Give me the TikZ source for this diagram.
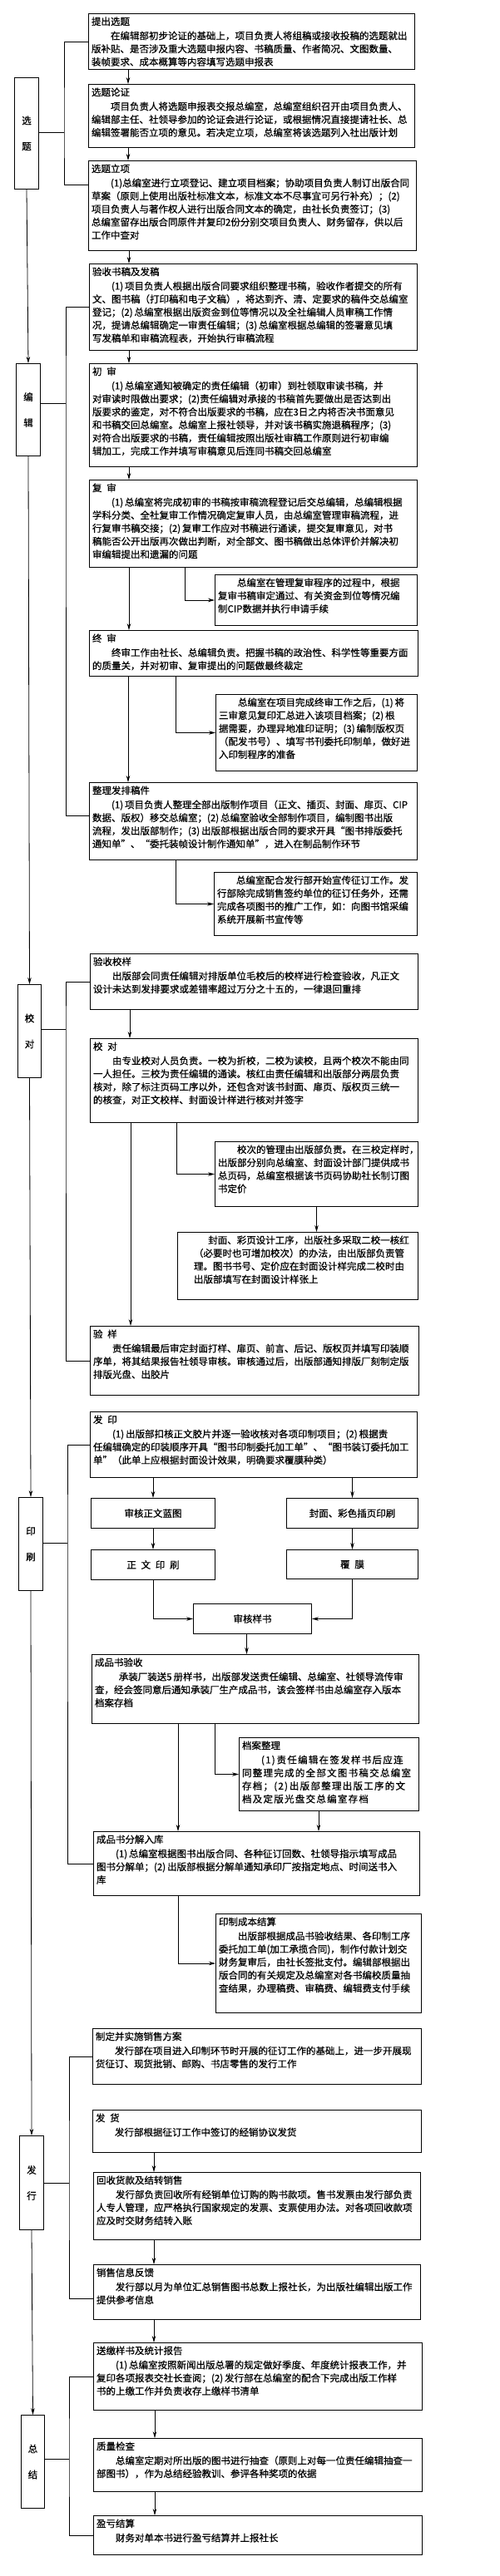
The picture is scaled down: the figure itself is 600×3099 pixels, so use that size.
\documentclass[tikz,border=0pt]{standalone}
\usepackage{fontspec}
\setmainfont{Noto Sans CJK SC}[FakeBold=0.6]
\usetikzlibrary{arrows.meta}
\pgfdeclarelayer{edgelayer}
\pgfdeclarelayer{nodelayer}
\pgfsetlayers{edgelayer,nodelayer,main}
\tikzstyle{flowbox}=[draw=black,fill=white,line width=1pt,anchor=north west,inner xsep=3.5pt,inner ysep=4pt]
\tikzstyle{smallbox}=[draw=black,fill=white,line width=1pt,anchor=north west,inner sep=0pt]
\tikzstyle{stagebox}=[draw=black,fill=white,line width=1pt,anchor=north west,inner sep=0pt,align=center,font=\fontsize{11.5}{31}\selectfont]
\tikzstyle{transition}=[-{Stealth[length=8pt,width=4.5pt]},draw=black,line width=0.8pt]
\tikzstyle{bracket}=[draw=black,line width=0.8pt]
\newcommand{\flowtext}[3]{\parbox[c][\dimexpr#2pt-8pt\relax][t]{\dimexpr#1pt-7pt\relax}{#3}}

\begin{document}
\begin{tikzpicture}[x=1pt,y=-1pt,font=\fontsize{11.5}{15.7}\selectfont]
	\useasboundingbox (0,0) rectangle (600,3099);
	\begin{pgfonlayer}{nodelayer}
		\node [style=stagebox, minimum width=29pt, minimum height=134pt] (xuanti) at (17,93) {选\\题};
		\node [style=stagebox, minimum width=29pt, minimum height=111pt] (bianji) at (19,437) {编\\辑};
		\node [style=stagebox, minimum width=28pt, minimum height=112pt] (jiaodui) at (21,1184) {校\\对};
		\node [style=stagebox, minimum width=29pt, minimum height=112pt] (yinshua) at (22,1801) {印\\刷};
		\node [style=stagebox, minimum width=29pt, minimum height=113pt] (faxing) at (23,2569) {发\\行};
		\node [style=stagebox, minimum width=28pt, minimum height=112pt] (zongjie) at (25,2905) {总\\结};

		\node [style=flowbox] (tichu) at (106,16) {\flowtext{392}{67}{提出选题\\[1.5pt]\hspace*{2em}在编辑部初步论证的基础上，项目负责人将组稿或接收投稿的选题就出\\版补贴、是否涉及重大选题申报内容、书稿质量、作者简况、文图数量、\\装帧要求、成本概算等内容填写选题申报表}};
		\node [style=flowbox] (lunzheng) at (106,101) {\flowtext{392}{76}{选题论证\\[1.5pt]\hspace*{2em}项目负责人将选题申报表交报总编室，总编室组织召开由项目负责人、\\编辑部主任、社领导参加的论证会进行论证，或根据情况直接提请社长、总\\编辑签署能否立项的意见。若决定立项，总编室将该选题列入社出版计划}};
		\node [style=flowbox] (lixiang) at (106,193) {\flowtext{394}{108}{选题立项\\[1.5pt]\hspace*{2em}(1)总编室进行立项登记、建立项目档案；协助项目负责人制订出版合同\\草案（原则上使用出版社标准文本，标准文本不尽事宜可另行补充）；(2)\\项目负责人与著作权人进行出版合同文本的确定，由社长负责签订；(3)\\总编室留存出版合同原件并复印2份分别交项目负责人、财务留存，供以后\\工作中查对}};
		\node [style=flowbox] (yanshou) at (107,317) {\flowtext{394}{104}{验收书稿及发稿\\[1.5pt]\hspace*{2em}(1)\,项目负责人根据出版合同要求组织整理书稿，验收作者提交的所有\\文、图书稿（打印稿和电子文稿），将达到齐、清、定要求的稿件交总编室\\登记；(2)\,总编室根据出版资金到位等情况以及全社编辑人员审稿工作情\\况，提请总编辑确定一审责任编辑；(3)\,总编室根据总编辑的签署意见填\\写发稿单和审稿流程表，开始执行审稿流程}};
		\node [style=flowbox] (chushen) at (107,437) {\flowtext{394}{124}{初\enspace 审\\[1.5pt]\hspace*{2em}(1)\,总编室通知被确定的责任编辑（初审）到社领取审读书稿，并\\对审读时限做出要求；(2)责任编辑对承接的书稿首先要做出是否达到出\\版要求的鉴定，对不符合出版要求的书稿，应在3日之内将否决书面意见\\和书稿交回总编室。总编室上报社领导，并对该书稿实施退稿程序；(3)\\对符合出版要求的书稿，责任编辑按照出版社审稿工作原则进行初审编\\辑加工，完成工作并填写审稿意见后连同书稿交回总编室}};
		\node [style=flowbox] (fushen) at (107,577) {\flowtext{394}{105}{复\enspace 审\\[1.5pt]\hspace*{2em}(1)\,总编室将完成初审的书稿按审稿流程登记后交总编辑，总编辑根据\\学科分类、全社复审工作情况确定复审人员，由总编室管理审稿流程，进\\行复审书稿交接；(2)\,复审工作应对书稿进行通读，提交复审意见，对书\\稿能否公开出版再次做出判断，对全部文、图书稿做出总体评价并解决初\\审编辑提出和遗漏的问题}};
		\node [style=flowbox] (fuban) at (258,691) {\flowtext{243}{61}{\hspace*{2em}总编室在管理复审程序的过程中，根据\\复审书稿审定通过、有关资金到位等情况编\\制CIP数据并执行申请手续}};
		\node [style=flowbox] (zhongshen) at (107,758) {\flowtext{395}{55}{终\enspace 审\\[1.5pt]\hspace*{2em}终审工作由社长、总编辑负责。把握书稿的政治性、科学性等重要方面\\的质量关，并对初审、复审提出的问题做最终裁定}};
		\node [style=flowbox] (zhongban) at (259,835) {\flowtext{242}{92}{\hspace*{2em}总编室在项目完成终审工作之后，(1)\,将\\三审意见复印汇总进入该项目档案；(2)\,根\\据需要，办理异地准印证明；(3)\,编制版权页\\（配发书号）、填写书刊委托印制单，做好进\\入印制程序的准备}};
		\node [style=flowbox] (zhengli) at (107,941) {\flowtext{394}{93}{整理发排稿件\\[1.5pt]\hspace*{2em}(1)\,项目负责人整理全部出版制作项目（正文、插页、封面、扉页、CIP\\数据、版权）移交总编室；(2)\,总编室验收全部制作项目，编制图书出版\\流程，发出版部制作；(3)\,出版部根据出版合同的要求开具“图书排版委托\\通知单”、“委托装帧设计制作通知单”，进入在制品制作环节}};
		\node [style=flowbox] (xuanchuan) at (257,1049) {\flowtext{244}{76}{\hspace*{2em}总编室配合发行部开始宣传征订工作。发\\行部除完成销售签约单位的征订任务外，还需\\完成各项图书的推广工作，如：向图书馆采编\\系统开展新书宣传等}};

		\node [style=flowbox] (jiaoyang) at (108,1147) {\flowtext{394}{67}{验收校样\\[1.5pt]\hspace*{2em}出版部会同责任编辑对排版单位毛校后的校样进行检查验收，凡正文\\设计未达到发排要求或差错率超过万分之十五的，一律退回重排}};
		\node [style=flowbox] (sanjiao) at (108,1249) {\flowtext{394}{101}{校\enspace 对\\[1.5pt]\hspace*{2em}由专业校对人员负责。一校为折校，二校为读校，且两个校次不能由同\\一人担任。三校为责任编辑的通读。核红由责任编辑和出版部分两层负责\\核对，除了标注页码工序以外，还包含对该书封面、扉页、版权页三统一\\的核查，对正文校样、封面设计样进行核对并签字}};
		\node [style=flowbox] (jiaoci) at (258,1373) {\flowtext{244}{78}{\hspace*{2em}校次的管理由出版部负责。在三校定样时，\\出版部分别向总编室、封面设计部门提供成书\\总页码，总编室根据该书页码协助社长制订图\\书定价}};
		\node [style=flowbox] (fengmian) at (213,1482) {\flowtext{289}{81}{\leftskip=16pt\hspace*{1.5em}封面、彩页设计工序，出版社多采取二校一核红\\（必要时也可增加校次）的办法，由出版部负责管\\理。图书书号、定价应在封面设计样完成二校时由\\出版部填写在封面设计样张上}};
		\node [style=flowbox] (yanyang) at (108,1595) {\flowtext{395}{83}{验\enspace 样\\[1.5pt]\hspace*{2em}责任编辑最后审定封面打样、扉页、前言、后记、版权页并填写印装顺\\序单，将其结果报告社领导审核。审核通过后，出版部通知排版厂刻制定版\\排版光盘、出胶片}};

		\node [style=flowbox] (fayin) at (108,1698) {\flowtext{393}{79}{发\enspace 印\\[1.5pt]\hspace*{2em}(1)\,出版部扣核正文胶片并逐一验收核对各项印制项目；(2)\,根据责\\任编辑确定的印装顺序开具“图书印制委托加工单”、“图书装订委托加工\\单”（此单上应根据封面设计效果，明确要求覆膜种类）}};
		\node [style=smallbox, minimum width=149pt, minimum height=36pt] (lantu) at (109,1802) {审核正文蓝图};
		\node [style=smallbox, minimum width=158pt, minimum height=36pt] (caise) at (344,1802) {封面、彩色插页印刷};
		\node [style=smallbox, minimum width=149pt, minimum height=36pt] (zhengwen) at (109,1864) {正\enspace 文\enspace 印\enspace 刷};
		\node [style=smallbox, minimum width=158pt, minimum height=35pt] (fumo) at (344,1864) {覆\enspace 膜};
		\node [style=smallbox, minimum width=142pt, minimum height=36pt] (yangshu) at (232,1929) {审核样书};
		\node [style=flowbox] (chengpin) at (110,1990) {\flowtext{393}{83}{成品书验收\\[1.5pt]\hspace*{2.5em}承装厂装送5\,册样书，出版部发送责任编辑、总编室、社领导流传审\\查，经会签同意后通知承装厂生产成品书，该会签样书由总编室存入版本\\档案存档}};
		\node [style=flowbox] (dangan) at (287,2090) {\flowtext{216}{88}{档案整理\\[1.5pt]{\addfontfeature{LetterSpace=11}\hspace*{2em}(1)\,责任编辑在签发样书后应连\\同整理完成的全部文图书稿交总编室\\存档；(2)\,出版部整理出版工序的文\\档及定版光盘交总编室存档}}};
		\node [style=flowbox] (fenjie) at (112,2203) {\flowtext{392}{77}{成品书分解入库\\[1.5pt]\hspace*{2em}(1)\,总编室根据图书出版合同、各种征订回数、社领导指示填写成品\\图书分解单；(2)\,出版部根据分解单通知承印厂按指定地点、时间送书入\\库}};
		\node [style=flowbox] (chengben) at (259,2302) {\flowtext{247}{119}{印制成本结算\\[1.5pt]\hspace*{2em}出版部根据成品书验收结果、各印制工序\\委托加工单(加工承揽合同)，制作付款计划交\\财务复审后，由社长签批支付。编辑部根据出\\版合同的有关规定及总编室对各书编校质量抽\\查结果，办理稿费、审稿费、编辑费支付手续}};

		\node [style=flowbox] (xiaoshou) at (111,2440) {\flowtext{395}{67}{制定并实施销售方案\\[1.5pt]\hspace*{2em}发行部在项目进入印制环节时开展的征订工作的基础上，进一步开展现\\货征订、现货批销、邮购、书店零售的发行工作}};
		\node [style=flowbox] (fahuo) at (111,2538) {\flowtext{395}{51}{发\enspace 货\\[1.5pt]\hspace*{2em}发行部根据征订工作中签订的经销协议发货}};
		\node [style=flowbox] (huishou) at (112,2613) {\flowtext{393}{81}{回收货款及结转销售\\[1.5pt]\hspace*{2em}发行部负责回收所有经销单位订购的购书款项。售书发票由发行部负责\\人专人管理，应严格执行国家规定的发票、支票使用办法。对各项回收款项\\应及时交财务结转入账}};
		\node [style=flowbox] (fankui) at (112,2724) {\flowtext{393}{66}{销售信息反馈\\[1.5pt]\hspace*{2em}发行部以月为单位汇总销售图书总数上报社长，为出版社编辑出版工作\\提供参考信息}};

		\node [style=flowbox] (songjiao) at (112,2818) {\flowtext{395}{81}{送缴样书及统计报告\\[1.5pt]\hspace*{2em}(1)\,总编室按照新闻出版总署的规定做好季度、年度统计报表工作，并\\复印各项报表交社长查阅；(2)\,发行部在总编室的配合下完成出版工作样\\书的上缴工作并负责收存上缴样书清单}};
		\node [style=flowbox] (zhiliang) at (112,2933) {\flowtext{395}{64}{质量检查\\[1.5pt]\hspace*{2em}总编室定期对所出版的图书进行抽查（原则上对每一位责任编辑抽查一\\部图书），作为总结经验教训、参评各种奖项的依据}};
		\node [style=flowbox] (yingkui) at (112,3026) {\flowtext{395}{47}{盈亏结算\\[1.5pt]\hspace*{2em}财务对单本书进行盈亏结算并上报社长}};
	\end{pgfonlayer}
	\begin{pgfonlayer}{edgelayer}
		\coordinate (jxuanti) at (77,159);
		\coordinate (jbianji) at (79,485);
		\coordinate (jjiaodui) at (79,1238);
		\coordinate (jyinshua) at (81,1856);
		\coordinate (jfaxing) at (83,2626);
		\coordinate (jzongjie) at (83,2958);

		\draw [style=transition] (xuanti.south) -- (bianji.north);
		\draw [style=transition] (bianji.south) -- (jiaodui.north);
		\draw [style=transition] (jiaodui.south) -- (yinshua.north);
		\draw [style=transition] (yinshua.south) -- (faxing.north);
		\draw [style=transition] (faxing.south) -- (zongjie.north);

		\draw [style=bracket] (xuanti.east |- jxuanti) -- (jxuanti);
		\draw [style=bracket] (tichu.west) -| (jxuanti) |- ([yshift=25pt]lixiang.west);
		\draw [style=bracket] (bianji.east |- jbianji) -- (jbianji);
		\draw [style=bracket] (yanshou.west) -| (jbianji) |- ([yshift=7pt]zhengli.west);
		\draw [style=bracket] (jiaodui.east |- jjiaodui) -- (jjiaodui);
		\draw [style=bracket] (jiaoyang.west) -| (jjiaodui) |- (yanyang.west);
		\draw [style=bracket] (yinshua.east |- jyinshua) -- (jyinshua);
		\draw [style=bracket] (fayin.west) -| (jyinshua) |- (fenjie.west);
		\draw [style=bracket] (faxing.east |- jfaxing) -- (jfaxing);
		\draw [style=bracket] (xiaoshou.west) -| (jfaxing) |- ([yshift=-8pt]fankui.west);
		\draw [style=bracket] (zongjie.east |- jzongjie) -- (jzongjie);
		\draw [style=bracket] (songjiao.west) -| (jzongjie) |- (yingkui.west);

		\draw [style=transition] ([xshift=48pt]tichu.south west) -- ([xshift=48pt]tichu.south west |- lunzheng.north);
		\draw [style=transition] ([xshift=48pt]lunzheng.south west) -- ([xshift=48pt]lunzheng.south west |- lixiang.north);
		\draw [style=transition] ([xshift=49pt]lixiang.south west) -- ([xshift=49pt]lixiang.south west |- yanshou.north);
		\draw [style=transition] ([xshift=48pt]yanshou.south west) -- ([xshift=48pt]yanshou.south west |- chushen.north);
		\draw [style=transition] ([xshift=48pt]chushen.south west) -- ([xshift=48pt]chushen.south west |- fushen.north);
		\draw [style=transition] ([xshift=48pt]fushen.south west) -- ([xshift=48pt]fushen.south west |- zhongshen.north);
		\draw [style=transition] ([xshift=115pt]fushen.south west) |- (fuban.west);
		\draw [style=transition] ([xshift=47pt]zhongshen.south west) -- ([xshift=47pt]zhongshen.south west |- zhengli.north);
		\draw [style=transition] ([xshift=104pt]zhongshen.south west) |- (zhongban.west);
		\draw [style=transition] ([xshift=104pt]zhengli.south west) |- (xuanchuan.west);

		\draw [style=transition] ([xshift=48pt]jiaoyang.south west) -- ([xshift=48pt]jiaoyang.south west |- sanjiao.north);
		\draw [style=transition] ([xshift=49pt]sanjiao.south west) -- ([xshift=49pt]sanjiao.south west |- yanyang.north);
		\draw [style=transition] ([xshift=104pt]sanjiao.south west) |- (jiaoci.west);
		\draw [style=transition] (jiaoci.south) -- (jiaoci.south |- fengmian.north);

		\draw [style=transition] (lantu.north |- fayin.south) -- (lantu.north);
		\draw [style=transition] (caise.north |- fayin.south) -- (caise.north);
		\draw [style=transition] (lantu.south) -- (zhengwen.north);
		\draw [style=transition] (caise.south) -- (fumo.north);
		\draw [style=transition] (zhengwen.south) |- (yangshu.west);
		\draw [style=transition] (fumo.south) |- (yangshu.east);
		\draw [style=transition] ([xshift=-7pt]yangshu.south) -- ([xshift=-7pt]yangshu.south |- chengpin.north);
		\draw [style=transition] ([xshift=104pt]chengpin.south west) -- ([xshift=104pt]chengpin.south west |- fenjie.north);
		\draw [style=transition] ([xshift=148pt]chengpin.south west) |- (dangan.west);
		\draw [style=transition] ([xshift=96pt]dangan.south west) -- ([xshift=96pt]dangan.south west |- fenjie.north);
		\draw [style=transition] ([xshift=102pt]fenjie.south west) |- (chengben.west);

		\draw [style=transition] ([xshift=74pt]fahuo.south west) -- ([xshift=74pt]fahuo.south west |- huishou.north);
		\draw [style=transition] ([xshift=73pt]huishou.south west) -- ([xshift=73pt]huishou.south west |- fankui.north);
		\draw [style=transition] ([xshift=73pt]fankui.south west) -- ([xshift=73pt]fankui.south west |- songjiao.north);
		\draw [style=transition] ([xshift=74pt]songjiao.south west) -- ([xshift=74pt]songjiao.south west |- zhiliang.north);
		\draw [style=transition] ([xshift=74pt]zhiliang.south west) -- ([xshift=74pt]zhiliang.south west |- yingkui.north);
	\end{pgfonlayer}
\end{tikzpicture}
\end{document}
